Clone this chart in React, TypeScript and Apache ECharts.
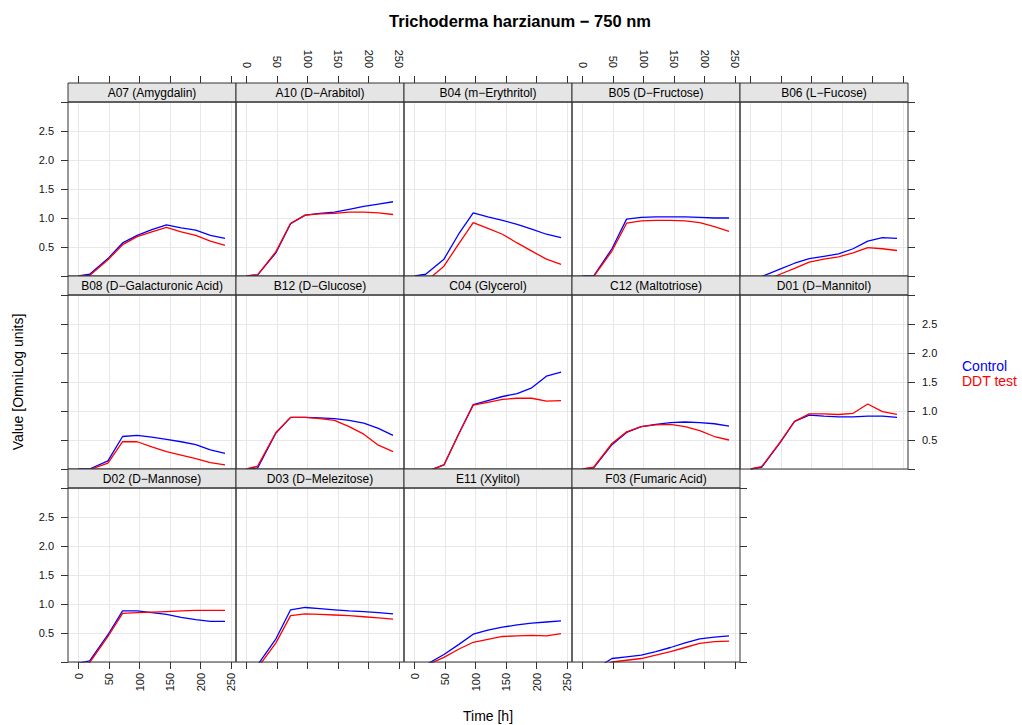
import React, { useEffect, useRef } from 'react';
import * as echarts from 'echarts';

// ---------------- data ----------------
const TIMES = [0, 18, 48, 72, 96, 120, 144, 168, 192, 216, 240];
const X_TICKS = [0, 50, 100, 150, 200, 250];

const PANEL_LABELS = [
  'A07 (Amygdalin)', 'A10 (D−Arabitol)', 'B04 (m−Erythritol)', 'B05 (D−Fructose)', 'B06 (L−Fucose)',
  'B08 (D−Galacturonic Acid)', 'B12 (D−Glucose)', 'C04 (Glycerol)', 'C12 (Maltotriose)', 'D01 (D−Mannitol)',
  'D02 (D−Mannose)', 'D03 (D−Melezitose)', 'E11 (Xylitol)', 'F03 (Fumaric Acid)',
];

const CONTROL_A07 = [0, 0.03, 0.3, 0.57, 0.7, 0.8, 0.88, 0.83, 0.79, 0.7, 0.65];
const DDT_A07 = [0, 0.01, 0.28, 0.54, 0.68, 0.76, 0.84, 0.76, 0.7, 0.6, 0.53];
const CONTROL_A10 = [0, 0.02, 0.4, 0.9, 1.05, 1.08, 1.1, 1.15, 1.2, 1.24, 1.28];
const DDT_A10 = [0, 0.02, 0.42, 0.91, 1.05, 1.07, 1.08, 1.1, 1.1, 1.09, 1.06];
const CONTROL_B04 = [0, 0.03, 0.29, 0.72, 1.09, 1.02, 0.96, 0.89, 0.81, 0.72, 0.66];
const DDT_B04 = [-0.2, -0.1, 0.17, 0.55, 0.92, 0.82, 0.72, 0.57, 0.43, 0.29, 0.2];
const CONTROL_B05 = [0, 0, 0.47, 0.98, 1.01, 1.02, 1.02, 1.02, 1.01, 1.0, 1.0];
const DDT_B05 = [-0.05, -0.01, 0.43, 0.91, 0.95, 0.96, 0.96, 0.95, 0.92, 0.85, 0.77];
const CONTROL_B06 = [-0.1, -0.01, 0.12, 0.22, 0.3, 0.34, 0.38, 0.47, 0.6, 0.66, 0.65];
const DDT_B06 = [-0.15, -0.1, 0.03, 0.13, 0.24, 0.29, 0.33, 0.4, 0.49, 0.47, 0.44];
const CONTROL_B08 = [0, 0, 0.14, 0.56, 0.58, 0.55, 0.51, 0.47, 0.42, 0.33, 0.27];
const DDT_B08 = [-0.02, -0.01, 0.1, 0.47, 0.47, 0.38, 0.3, 0.24, 0.18, 0.11, 0.07];
const CONTROL_B12 = [0, 0.02, 0.62, 0.89, 0.89, 0.88, 0.87, 0.84, 0.79, 0.7, 0.58];
const DDT_B12 = [0, 0.05, 0.63, 0.89, 0.89, 0.87, 0.84, 0.73, 0.6, 0.41, 0.3];
const CONTROL_C04 = [-0.1, -0.05, 0.07, 0.6, 1.11, 1.18, 1.25, 1.3, 1.4, 1.6, 1.67];
const DDT_C04 = [-0.1, -0.05, 0.07, 0.6, 1.1, 1.15, 1.2, 1.22, 1.22, 1.17, 1.18];
const CONTROL_C12 = [0, 0.02, 0.42, 0.63, 0.73, 0.77, 0.8, 0.81, 0.8, 0.78, 0.74];
const DDT_C12 = [0, 0.03, 0.44, 0.64, 0.73, 0.76, 0.77, 0.73, 0.66, 0.56, 0.5];
const CONTROL_D01 = [0, 0.03, 0.45, 0.82, 0.93, 0.91, 0.9, 0.9, 0.91, 0.91, 0.89];
const DDT_D01 = [0, 0.04, 0.46, 0.82, 0.95, 0.95, 0.94, 0.96, 1.12, 0.99, 0.94];
const CONTROL_D02 = [-0.02, 0.02, 0.47, 0.88, 0.88, 0.85, 0.82, 0.77, 0.73, 0.7, 0.7];
const DDT_D02 = [-0.05, -0.01, 0.44, 0.84, 0.85, 0.86, 0.87, 0.88, 0.89, 0.89, 0.89];
const CONTROL_D03 = [-0.2, -0.05, 0.4, 0.9, 0.94, 0.92, 0.9, 0.88, 0.87, 0.85, 0.83];
const DDT_D03 = [-0.25, -0.1, 0.33, 0.8, 0.83, 0.82, 0.81, 0.8, 0.78, 0.76, 0.74];
const CONTROL_E11 = [-0.15, -0.05, 0.13, 0.3, 0.48, 0.55, 0.6, 0.64, 0.67, 0.69, 0.71];
const DDT_E11 = [-0.15, -0.06, 0.08, 0.22, 0.34, 0.39, 0.44, 0.45, 0.46, 0.45, 0.49];
const CONTROL_F03 = [-0.3, -0.14, 0.06, 0.09, 0.12, 0.18, 0.25, 0.33, 0.4, 0.43, 0.45];
const DDT_F03 = [-0.3, -0.2, 0.0, 0.03, 0.06, 0.12, 0.18, 0.25, 0.32, 0.35, 0.36];

const CONTROL_SERIES = [
  CONTROL_A07, CONTROL_A10, CONTROL_B04, CONTROL_B05, CONTROL_B06,
  CONTROL_B08, CONTROL_B12, CONTROL_C04, CONTROL_C12, CONTROL_D01,
  CONTROL_D02, CONTROL_D03, CONTROL_E11, CONTROL_F03,
];
const DDT_SERIES = [
  DDT_A07, DDT_A10, DDT_B04, DDT_B05, DDT_B06,
  DDT_B08, DDT_B12, DDT_C04, DDT_C12, DDT_D01,
  DDT_D02, DDT_D03, DDT_E11, DDT_F03,
];

// ---------------- layout / style ----------------
const FONT = '"Liberation Sans", Arial, Helvetica, sans-serif';
const COLS = 5;
const PANEL_W = 168;
const STRIP_H = 19;
const PLOT_H = 174;
const ROW_H = STRIP_H + PLOT_H;
const LEFT0 = 68;
const TOP0 = 83;
const BORDER = '#333333';
const GRIDLINE = '#e8e8e8';
const BLUE = '#0000ff';
const RED = '#ff0000';

function buildOption() {
  const grid: any[] = [];
  const xAxis: any[] = [];
  const yAxis: any[] = [];
  const series: any[] = [];
  const graphics: any[] = [];

  PANEL_LABELS.forEach((label, i) => {
    const r = Math.floor(i / COLS);
    const c = i % COLS;
    const left = LEFT0 + PANEL_W * c;
    const stripTop = TOP0 + ROW_H * r;
    const top = stripTop + STRIP_H;

    grid.push({ left, top, width: PANEL_W, height: PLOT_H, show: false, containLabel: false, outerBoundsMode: 'none' });

    const xTop = r === 0;
    const xBottom = r === 2;
    const xLabels = (xTop && (c === 1 || c === 3)) || (xBottom && (c === 0 || c === 2));
    xAxis.push({
      gridIndex: i,
      type: 'value',
      min: -17.5,
      max: 258,
      position: xTop ? 'top' : 'bottom',
      offset: xTop ? STRIP_H : 0,
      axisLine: { show: false, onZero: false },
      axisTick: { show: xTop || xBottom, customValues: X_TICKS, length: 7, lineStyle: { color: BORDER, width: 1 } },
      axisLabel: {
        show: xLabels, customValues: X_TICKS, rotate: 90, margin: xTop ? 15 : 11,
        fontSize: 11, color: '#111', fontFamily: FONT,
      },
      splitLine: { show: true, lineStyle: { color: GRIDLINE, width: 1 } },
    });

    const yLeft = c === 0;
    const yRight = c === 4 || (r === 2 && c === 3);
    const yLabels = (yLeft && r !== 1) || (c === 4 && r === 1);
    yAxis.push({
      gridIndex: i,
      type: 'value',
      min: 0,
      max: 3,
      interval: 0.5,
      position: yRight ? 'right' : 'left',
      axisLine: { show: false, onZero: false },
      axisTick: { show: yLeft || yRight, length: 7, lineStyle: { color: BORDER, width: 1 } },
      axisLabel: {
        show: yLabels, margin: 14, fontSize: 11, color: '#111', fontFamily: FONT,
        formatter: (v: number) => (v <= 0 || v >= 3 ? '' : v.toFixed(1)),
      },
      splitLine: { show: true, lineStyle: { color: GRIDLINE, width: 1 } },
    });

    series.push({
      name: 'Control', type: 'line', xAxisIndex: i, yAxisIndex: i,
      data: TIMES.map((t, k) => [t, CONTROL_SERIES[i][k]]),
      symbol: 'none', clip: true, lineStyle: { color: BLUE, width: 1.3 }, itemStyle: { color: BLUE },
    });
    series.push({
      name: 'DDT test', type: 'line', xAxisIndex: i, yAxisIndex: i,
      data: TIMES.map((t, k) => [t, DDT_SERIES[i][k]]),
      symbol: 'none', clip: true, lineStyle: { color: RED, width: 1.3 }, itemStyle: { color: RED },
    });

    // strip
    graphics.push({
      type: 'rect', z: 100,
      shape: { x: left, y: stripTop, width: PANEL_W, height: STRIP_H },
      style: { fill: '#e5e5e5', stroke: BORDER, lineWidth: 1 },
    });
    graphics.push({
      type: 'text', z: 101, x: left + PANEL_W / 2, y: stripTop + STRIP_H / 2 + 0.5,
      style: { text: label, fontSize: 12, fontFamily: FONT, fill: '#000', align: 'center', verticalAlign: 'middle' },
    });
    // panel outline
    graphics.push({
      type: 'rect', z: 100,
      shape: { x: left, y: top, width: PANEL_W, height: PLOT_H },
      style: { fill: 'none', stroke: BORDER, lineWidth: 1 },
    });
  });

  // titles and legend
  graphics.push({
    type: 'text', z: 101, x: 520, y: 21,
    style: { text: 'Trichoderma harzianum − 750 nm', fontSize: 16.5, fontWeight: 'bold', fontFamily: FONT, fill: '#000', align: 'center', verticalAlign: 'middle' },
  });
  graphics.push({
    type: 'text', z: 101, x: 488, y: 716,
    style: { text: 'Time [h]', fontSize: 14, fontFamily: FONT, fill: '#000', align: 'center', verticalAlign: 'middle' },
  });
  graphics.push({
    type: 'text', z: 101, x: 18, y: 382, rotation: Math.PI / 2,
    style: { text: 'Value [OmniLog units]', fontSize: 14, fontFamily: FONT, fill: '#000', align: 'center', verticalAlign: 'middle' },
  });
  graphics.push({
    type: 'text', z: 101, x: 962, y: 366,
    style: { text: 'Control', fontSize: 14, fontFamily: FONT, fill: BLUE, align: 'left', verticalAlign: 'middle' },
  });
  graphics.push({
    type: 'text', z: 101, x: 962, y: 381,
    style: { text: 'DDT test', fontSize: 14, fontFamily: FONT, fill: RED, align: 'left', verticalAlign: 'middle' },
  });

  return {
    animation: false,
    backgroundColor: '#ffffff',
    grid, xAxis, yAxis, series,
    graphic: { elements: graphics },
  };
}

export default function App() {
  const ref = useRef<HTMLDivElement>(null);
  useEffect(() => {
    if (!ref.current) return;
    const chart = echarts.init(ref.current, undefined, { renderer: 'svg' });
    chart.setOption(buildOption() as any);
    return () => chart.dispose();
  }, []);
  return <div ref={ref} style={{ position: 'fixed', left: 0, top: 0, width: 1022, height: 725 }} />;
}
